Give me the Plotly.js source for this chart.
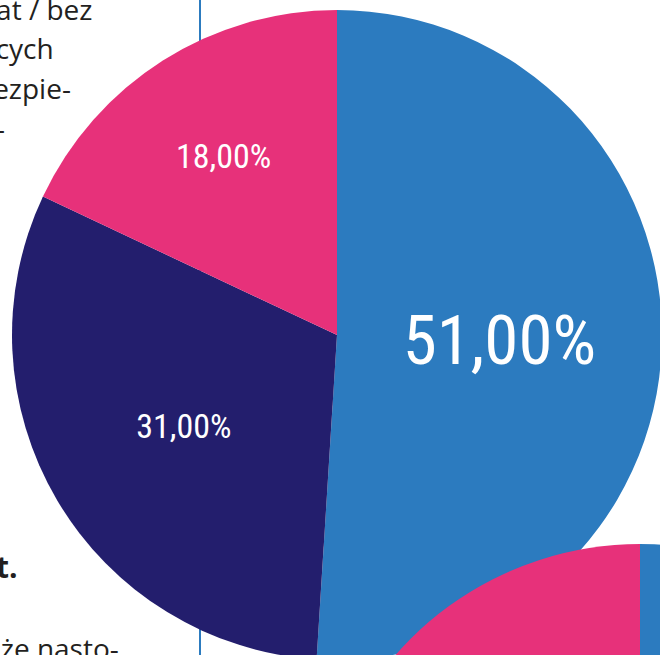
<!DOCTYPE html>
<html>
<head>
<meta charset="utf-8">
<script src="https://cdn.plot.ly/plotly-3.0.1.min.js"></script>
<style>
  html, body { margin: 0; padding: 0; width: 660px; height: 655px; overflow: hidden; background: #ffffff; }
  #chart { position: absolute; left: 0; top: 0; width: 1000px; height: 1200px; }
</style>
</head>
<body>
<div id="chart"></div>
<script>
// Main pie (fully readable)
const labels = ["Niebieski", "Granatowy", "Różowy"];
const values = [51, 31, 18];
const colors = ["#2c7bbf", "#231e6d", "#e7317a"];
const labelSizes = [69, 34, 34];

// Second pie (only its top edge is visible; values estimated)
const labels2 = ["Niebieski", "Granatowy", "Różowy"];
const values2 = [45, 35, 20];

// Cropped article text around the chart
const textLines = ["lat / bez", "jących", "bezpie-", "–"];
const textBold = "t.";
const textBottom = "może nasto-";

const W = 1000, H = 1200;
function px(x) { return x / W; }
function py(y) { return (H - y) / H; }

const pieFont = "Roboto Condensed, Liberation Sans Narrow, Roboto, sans-serif";

const trace1 = {
  type: "pie",
  labels: labels,
  values: values,
  sort: false,
  direction: "clockwise",
  rotation: 0,
  marker: { colors: colors, line: { width: 0 } },
  texttemplate: "%{percent:.2%}",
  textposition: "inside",
  insidetextorientation: "horizontal",
  textfont: { family: pieFont, size: labelSizes, color: "#ffffff" },
  hoverinfo: "skip",
  domain: { x: [px(12), px(662)], y: [py(660), py(10)] }
};

const trace2 = {
  type: "pie",
  labels: labels2,
  values: values2,
  sort: false,
  direction: "clockwise",
  rotation: 0,
  marker: { colors: colors, line: { width: 0 } },
  textinfo: "none",
  hoverinfo: "skip",
  domain: { x: [px(315), px(965)], y: [py(1194), py(544)] }
};

const txtFamily = "Open Sans, Noto Sans, sans-serif";
const txtFont = { family: txtFamily, size: 28, color: "#231f20" };
const lineRight = [94, 56, 73, 7];
const lineY = [9, 48, 88, 128];
const annotations = textLines.map((t, i) => ({
  xref: "paper", yref: "paper",
  x: px(lineRight[i]), y: py(lineY[i]),
  xanchor: "right", yanchor: "middle",
  text: t, showarrow: false, font: txtFont
}));
annotations.push({
  xref: "paper", yref: "paper", x: px(20), y: py(566),
  xanchor: "right", yanchor: "middle",
  text: "<b>" + textBold + "</b>", showarrow: false,
  font: { family: txtFamily, size: 30, color: "#231f20" }
});
annotations.push({
  xref: "paper", yref: "paper", x: px(121), y: py(648),
  xanchor: "right", yanchor: "middle",
  text: textBottom, showarrow: false, font: txtFont
});

const layout = {
  width: W, height: H,
  margin: { l: 0, r: 0, t: 0, b: 0 },
  paper_bgcolor: "#ffffff",
  showlegend: false,
  separators: ", ",
  shapes: [{
    type: "line", xref: "paper", yref: "paper", layer: "below",
    x0: px(200), x1: px(200), y0: py(0), y1: py(655),
    line: { color: "#2c7bbf", width: 2 }
  }],
  annotations: annotations
};

Plotly.newPlot("chart", [trace1, trace2], layout, { displayModeBar: false, staticPlot: true });
</script>
</body>
</html>
